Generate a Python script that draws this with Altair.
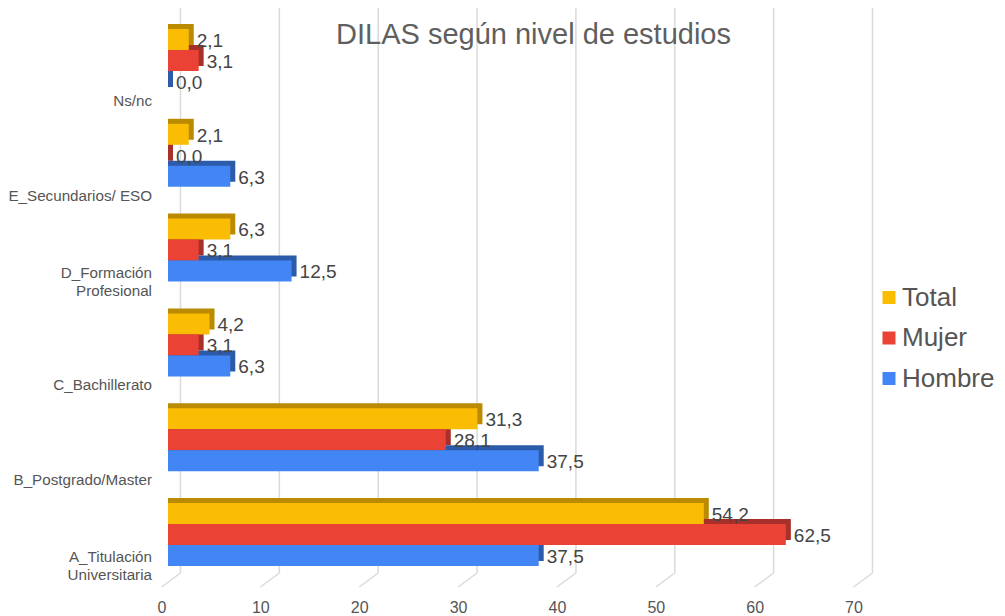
import altair as alt
import pandas as pd

# ---- data ----
categories = ["Ns/nc", "E_Secundarios/ ESO", "D_Formación Profesional",
              "C_Bachillerato", "B_Postgrado/Master", "A_Titulación Universitaria"]
category_labels = ["Ns/nc", "E_Secundarios/ ESO", "D_Formación\nProfesional",
                   "C_Bachillerato", "B_Postgrado/Master", "A_Titulación\nUniversitaria"]
series = ["Total", "Mujer", "Hombre"]
total = [2.1, 2.1, 6.3, 4.2, 31.3, 54.2]
mujer = [3.1, 0.0, 3.1, 3.1, 28.1, 62.5]
hombre = [0.0, 6.3, 12.5, 6.3, 37.5, 37.5]
ticks = [0, 10, 20, 30, 40, 50, 60, 70]
title_text = "DILAS según nivel de estudios"

colors = ["#FBBC04", "#EA4335", "#4285F4"]
dark_colors = ["#BA8A00", "#A8302A", "#2C5BAA"]
FONT = "Liberation Sans"

rows = []
for i, c in enumerate(categories):
    for s, vals in zip(series, [total, mujer, hombre]):
        rows.append({"cat": c, "series": s, "value": vals[i],
                     "label": f"{vals[i]:.1f}".replace(".", ",")})
df = pd.DataFrame(rows)

last_lines, first_lines = [], []
for c, lab in zip(categories, category_labels):
    parts = lab.split("\n")
    last_lines.append({"cat": c, "txt": parts[-1]})
    if len(parts) > 1:
        first_lines.append({"cat": c, "txt": parts[0]})
last_df = pd.DataFrame(last_lines)
first_df = pd.DataFrame(first_lines)
tick_df = pd.DataFrame({"t": ticks})
title_df = pd.DataFrame({"t": [title_text]})

W, H = 692, 555
GROUP = 63      # pixel height of one category group (3 bars)
DEPTH = 5       # 3D depth of the bars
xscale = alt.Scale(domain=[0, 70], nice=False, zero=True)
yscale = alt.Scale(domain=categories, paddingInner=0.335, paddingOuter=0.095)

X = alt.X("value:Q", scale=xscale, axis=None, stack=None)
Y = alt.Y("cat:N", scale=yscale, axis=None)
YO = alt.YOffset("series:N", scale=alt.Scale(type="band", domain=series,
                                              paddingInner=0, paddingOuter=0))
YO_shadow = alt.YOffset("series:N", scale=alt.Scale(type="band", domain=series, paddingInner=0,
                                                     paddingOuter=0,
                                                     range=[-DEPTH, GROUP - DEPTH]))

grid = alt.Chart(tick_df).mark_rule(color="#DADADA", strokeWidth=1.5, xOffset=12.5).encode(
    x=alt.X("t:Q", scale=xscale, axis=None), y=alt.value(-17), y2=alt.value(553))
slant = alt.Chart(tick_df).mark_rule(color="#DADADA", strokeWidth=1.5, xOffset=12.5, x2Offset=-6.5).encode(
    x=alt.X("t:Q", scale=xscale, axis=None), x2=alt.X2("t:Q"),
    y=alt.value(553), y2=alt.value(567))

shadow = alt.Chart(df).mark_bar(xOffset=DEPTH).encode(
    x=X, y=Y, yOffset=YO_shadow,
    color=alt.Color("series:N", scale=alt.Scale(domain=series, range=dark_colors), legend=None))

front = alt.Chart(df).mark_bar().encode(
    x=X, y=Y, yOffset=YO,
    color=alt.Color("series:N", scale=alt.Scale(domain=series, range=colors),
                    legend=alt.Legend(orient="none", legendX=708, legendY=264.5, title=None,
                                      symbolType="square", symbolSize=169, symbolStrokeWidth=0,
                                      labelFontSize=26, labelFont=FONT, labelColor="#555555",
                                      rowPadding=14.5, labelOffset=0, padding=0)))

vlabels = alt.Chart(df).mark_text(align="left", baseline="alphabetic", dx=8, dy=7.2, fontSize=19,
                                  font=FONT, color="#444444").encode(
    x=X, y=Y, yOffset=YO, text="label:N")

ticklab = alt.Chart(tick_df).mark_text(dx=-6, fontSize=16, font=FONT, color="#555555",
                                       baseline="alphabetic").encode(
    x=alt.X("t:Q", scale=xscale, axis=None), y=alt.value(593), text="t:Q")

catlab_last = alt.Chart(last_df).mark_text(align="right", baseline="alphabetic", dy=45.5,
                                           fontSize=15.2, font=FONT, color="#555555").encode(
    x=alt.value(-16), y=Y, text="txt:N")
catlab_first = alt.Chart(first_df).mark_text(align="right", baseline="alphabetic", dy=27.5,
                                             fontSize=15.2, font=FONT, color="#555555").encode(
    x=alt.value(-16), y=Y, text="txt:N")

title = alt.Chart(title_df).mark_text(align="center", baseline="alphabetic", fontSize=29,
                                      font=FONT, color="#5F5F5F").encode(
    x=alt.value(365.5), y=alt.value(24), text="t:N")

chart = alt.layer(grid, slant, shadow, front, vlabels, ticklab, catlab_last, catlab_first,
                  title).resolve_scale(color="independent", yOffset="independent").properties(
    width=W, height=H,
    padding={"left": 160, "top": 12, "right": 137, "bottom": 41},
    autosize=alt.AutoSizeParams(type="none"),
).configure_view(stroke=None)

chart.save("out.html", embed_options={"renderer": "svg", "actions": False})
